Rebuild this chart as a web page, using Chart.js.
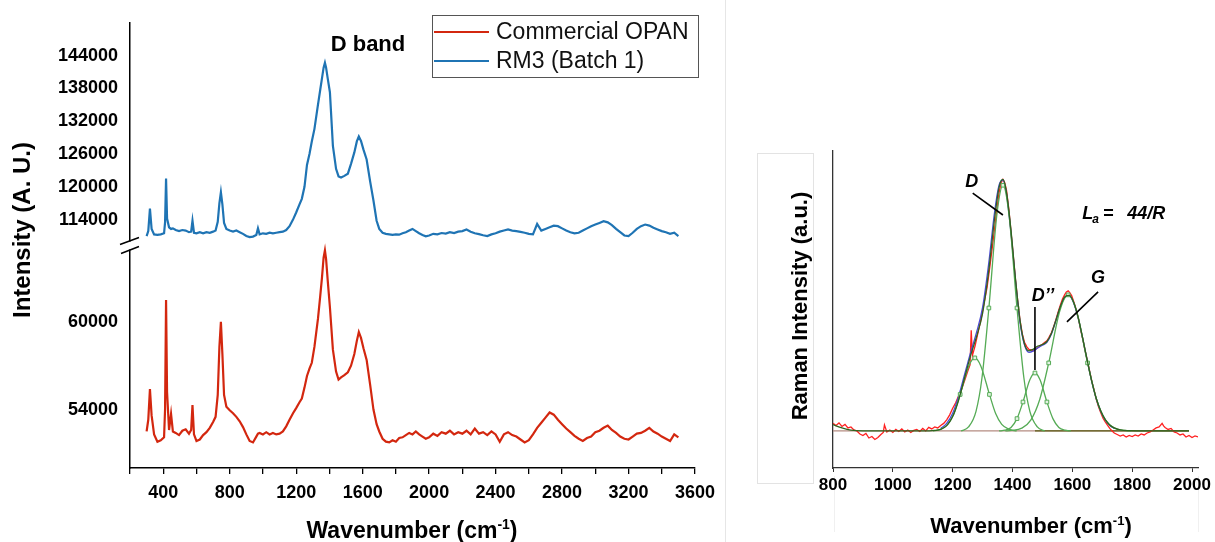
<!DOCTYPE html>
<html>
<head>
<meta charset="utf-8">
<title>Raman spectra</title>
<script src="https://cdn.jsdelivr.net/npm/chart.js@4.4.1/dist/chart.umd.min.js"></script>
<style>
  html, body { margin: 0; padding: 0; background: #fff; }
  #wrap { position: relative; width: 1215px; height: 542px; overflow: hidden; }
  #leftBox { position: absolute; left: 0; top: 0; width: 725px; height: 542px; }
  #rightBox { position: absolute; left: 726px; top: 0; width: 489px; height: 542px; }
  #sep { position: absolute; left: 725px; top: 0; width: 1px; height: 542px; background: #e6e6e6; }
</style>
</head>
<body>
<div id="wrap">
  <div id="leftBox"><canvas id="leftCanvas"></canvas></div>
  <div id="sep"></div>
  <div id="rightBox"><canvas id="rightCanvas"></canvas></div>
</div>
<script>
// ---- left panel: full spectra, broken intensity axis ----
var SERIES_NAMES = ['Commercial OPAN', 'RM3 (Batch 1)'];

var LEFT_WN = [
  300, 310, 320, 330, 345, 365, 385, 405, 411, 417,
  423, 435, 447, 458, 475, 495, 515, 535, 555, 568,
  576, 585, 600, 620, 640, 660, 680, 700, 715, 728,
  738, 747, 756, 766, 780, 800, 820, 840, 860, 880,
  900, 920, 940, 960, 970, 980, 1000, 1020, 1040, 1060,
  1080, 1100, 1120, 1140, 1160, 1181, 1200, 1220, 1234, 1250,
  1265, 1280, 1294, 1310, 1331, 1345, 1355, 1365, 1373, 1380,
  1390, 1403, 1421, 1440, 1455, 1470, 1490, 1511, 1530, 1550,
  1565, 1577, 1590, 1605, 1624, 1645, 1665, 1684, 1700, 1720,
  1740, 1760, 1780, 1800, 1820, 1840, 1860, 1880, 1900, 1920,
  1940, 1960, 1980, 2000, 2025, 2050, 2075, 2100, 2125, 2150,
  2175, 2200, 2225, 2250, 2275, 2300, 2325, 2350, 2375, 2400,
  2425, 2450, 2475, 2500, 2525, 2550, 2575, 2600, 2625, 2650,
  2675, 2700, 2725, 2750, 2775, 2800, 2825, 2850, 2875, 2900,
  2925, 2950, 2975, 3000, 3025, 3050, 3075, 3100, 3125, 3150,
  3175, 3200, 3225, 3250, 3275, 3300, 3325, 3350, 3375, 3400,
  3425, 3450, 3475, 3500
];

var OPAN = [
  52500, 53300, 55400, 53600, 52300, 51800, 51900, 52100, 54000, 61500,
  55200, 52600, 53700, 52500, 52400, 52250, 52550, 52650, 52350, 52600,
  54300, 52300, 51850, 51950, 52250, 52450, 52750, 53150, 53500, 55000,
  58300, 60000, 57800, 55000, 54200, 53950, 53750, 53500, 53200, 52800,
  52300, 51850, 51750, 52150, 52350, 52400, 52300, 52450, 52300, 52400,
  52300, 52350, 52500, 52850, 53300, 53750, 54100, 54500, 54750, 55500,
  56300, 56800, 57200, 58300, 60200, 61800, 63000, 64400, 64900, 64300,
  62800, 61000, 58100, 56600, 56050, 56200, 56350, 56550, 57000, 57800,
  58700, 59300, 58900, 58200, 57400, 55700, 54000, 53000, 52500, 52000,
  51800, 51750, 51900, 51800, 52050, 52100, 52250, 52400, 52300, 52500,
  52300, 52150, 52000, 52100, 52350, 52200, 52450, 52350, 52550, 52300,
  52450, 52350, 52550, 52300, 52700, 52350, 52450, 52250, 52500, 52300,
  51800, 52300, 52450, 52250, 52150, 51950, 51750, 51900, 52300, 52750,
  53100, 53450, 53800, 53650, 53300, 53000, 52700, 52450, 52200, 52000,
  51850, 52050, 52150, 52450, 52550, 52750, 52900, 52600, 52400, 52150,
  52000, 51950, 52150, 52350, 52400, 52550, 52750, 52500, 52350, 52150,
  52000, 51850, 52300, 52100
];

var RM3 = [
  111000, 111900, 116000, 112300, 111300, 111200, 111300, 111500, 113500, 121500,
  114200, 112600, 112300, 112400, 112100, 111900, 112100, 112000, 111700, 111800,
  113800, 111600, 111500, 111700, 111500, 111700, 111600, 111800, 112000, 113600,
  117000, 119000, 116800, 113400, 112300, 112000, 111800, 112000, 111700, 111400,
  111000, 110800, 110900, 111200, 112400, 111300, 111500, 111400, 111600, 111500,
  111600, 111700, 111800, 112100, 112800, 114000, 115300, 116800, 117800, 120000,
  124000, 126000, 128300, 130600, 135000, 137800, 139800, 141800, 142700, 141800,
  139800, 137300, 127500, 123300, 121900, 121700, 122000, 122400, 124200, 126300,
  128300, 129200, 128400, 126800, 125000, 121000, 117500, 113800, 112300, 111600,
  111400, 111300, 111200, 111300, 111250, 111500, 111700, 112000, 112300, 111900,
  111500, 111200, 110950, 111100, 111400, 111300, 111550, 111450, 111700, 111550,
  111800, 111900, 112200, 111800, 111500, 111350, 111150, 111000, 111300, 111500,
  111800, 112000, 112200, 112000, 111900, 111750, 111600, 111400, 111300, 113200,
  112000, 112300, 112600, 112900, 112800, 112400, 112000, 111700, 111500, 111600,
  112000, 112400, 112800, 113100, 113400, 113700, 113500, 113000, 112300, 111700,
  111100, 111000, 111600, 112300, 112800, 113100, 112900, 112500, 112200, 111900,
  111700, 111400, 111600, 111000
];

var LEFT_X_TICKS = [200, 400, 600, 800, 1000, 1200, 1400, 1600, 1800, 2000,
  2200, 2400, 2600, 2800, 3000, 3200, 3400, 3600];
var Y_TOP_TICKS = [114000, 120000, 126000, 132000, 138000, 144000];
var Y_BOTTOM_TICKS = [54000, 60000];

// ---- right panel: D/G region with fitted bands ----
var RAMAN_WN = [
  800, 810, 820, 830, 840, 850, 860, 870, 880, 890,
  900, 910, 920, 930, 940, 950, 960, 968, 972, 980,
  990, 1000, 1010, 1020, 1030, 1040, 1050, 1060, 1070, 1080,
  1090, 1100, 1110, 1120, 1130, 1140, 1150, 1160, 1170, 1180,
  1190, 1200, 1210, 1220, 1230, 1240, 1250, 1258, 1262, 1266,
  1275, 1285, 1295, 1305, 1315, 1325, 1335, 1345, 1355, 1362,
  1368, 1374, 1380, 1388, 1395, 1403, 1410, 1418, 1425, 1433,
  1440, 1448, 1455, 1462, 1470, 1478, 1485, 1492, 1500, 1508,
  1515, 1522, 1530, 1538, 1545, 1552, 1560, 1567, 1574, 1580,
  1586, 1592, 1598, 1605, 1612, 1620, 1628, 1635, 1642, 1650,
  1658, 1665, 1672, 1680, 1688, 1695, 1703, 1710, 1718, 1725,
  1733, 1740, 1750, 1760, 1770, 1780, 1790, 1800, 1810, 1820,
  1830, 1840, 1850, 1860, 1870, 1880, 1890, 1900, 1905, 1910,
  1920, 1930, 1940, 1950, 1960, 1970, 1980, 1990, 2000, 2010,
  2020
];

var RAMAN_INT = [
  0.030, 0.022, 0.032, 0.018, 0.026, 0.012, 0.016, 0.004, 0.000, -0.012,
  -0.018, -0.010, -0.028, -0.022, -0.034, -0.026, -0.014, -0.006, 0.024, -0.004,
  0.004, -0.006, 0.006, -0.002, 0.008, -0.004, 0.004, -0.006, 0.002, 0.006,
  -0.002, 0.010, 0.000, 0.014, 0.008, 0.016, 0.012, 0.022, 0.030, 0.044,
  0.064, 0.090, 0.112, 0.140, 0.166, 0.200, 0.236, 0.262, 0.400, 0.300,
  0.338, 0.392, 0.446, 0.508, 0.570, 0.658, 0.752, 0.852, 0.945, 0.985,
  0.998, 0.985, 0.955, 0.878, 0.790, 0.690, 0.600, 0.510, 0.440, 0.384,
  0.352, 0.334, 0.324, 0.322, 0.318, 0.326, 0.330, 0.338, 0.344, 0.352,
  0.358, 0.372, 0.390, 0.416, 0.442, 0.470, 0.500, 0.524, 0.540, 0.552,
  0.556, 0.548, 0.536, 0.512, 0.484, 0.448, 0.400, 0.364, 0.322, 0.280,
  0.236, 0.198, 0.166, 0.126, 0.094, 0.072, 0.050, 0.036, 0.022, 0.010,
  0.000, -0.008, -0.014, -0.020, -0.016, -0.024, -0.018, -0.022, -0.016, -0.020,
  -0.012, -0.016, -0.008, -0.004, 0.004, 0.012, 0.016, 0.030, 0.020, 0.014,
  0.006, 0.010, -0.004, -0.008, -0.016, -0.012, -0.024, -0.018, -0.026, -0.020,
  -0.024
];

// cumulative fit (dark green) and peak-sum (blue)
var FIT_WN = [
  800, 830, 860, 900, 1000, 1100, 1140, 1160, 1180, 1200,
  1220, 1240, 1260, 1280, 1300, 1320, 1340, 1355, 1368, 1380,
  1395, 1410, 1425, 1440, 1455, 1470, 1485, 1500, 1515, 1530,
  1545, 1560, 1575, 1590, 1605, 1620, 1635, 1650, 1665, 1680,
  1695, 1710, 1725, 1740, 1760, 1790, 1850, 1990
];
var FIT_INT = [
  0.025, 0.012, 0.003, 0, 0, 0, 0.002, 0.006, 0.021, 0.057,
  0.123, 0.212, 0.300, 0.375, 0.467, 0.630, 0.842, 0.967, 0.998, 0.947,
  0.795, 0.603, 0.440, 0.345, 0.318, 0.325, 0.337, 0.343, 0.355, 0.387,
  0.439, 0.494, 0.533, 0.538, 0.509, 0.448, 0.366, 0.279, 0.197, 0.129,
  0.079, 0.045, 0.024, 0.012, 0.004, 0.001, 0, 0
];
var SUM_WN = [
  1160, 1180, 1200, 1220, 1240, 1260, 1280, 1300, 1320, 1340,
  1355, 1368, 1380, 1395, 1410, 1425, 1440, 1455, 1470, 1485,
  1500, 1515, 1530, 1545, 1560, 1575, 1590, 1605, 1620, 1635,
  1650, 1665, 1680, 1695, 1710, 1725, 1740
];
var SUM_INT = [
  0.010, 0.030, 0.070, 0.138, 0.225, 0.312, 0.392, 0.490, 0.660, 0.868,
  0.975, 0.996, 0.940, 0.785, 0.595, 0.432, 0.342, 0.312, 0.318, 0.330,
  0.340, 0.352, 0.385, 0.438, 0.492, 0.530, 0.536, 0.506, 0.446, 0.364,
  0.278, 0.196, 0.128, 0.078, 0.044, 0.022, 0.010
];

// individual bands
var BAND1_WN = [1134, 1159, 1184, 1204, 1225, 1254, 1274, 1294, 1323, 1344, 1364, 1389, 1414];
var BAND1_INT = [0, 0.006, 0.026, 0.068, 0.145, 0.258, 0.290, 0.258, 0.145, 0.068, 0.026, 0.006, 0];
var BAND_D_WN = [1228, 1253, 1278, 1298, 1321, 1348, 1368, 1388, 1415, 1438, 1458, 1483, 1508];
var BAND_D_INT = [0, 0.016, 0.078, 0.211, 0.488, 0.861, 0.975, 0.861, 0.488, 0.211, 0.078, 0.016, 0];
var BAND_DPP_WN = [1355, 1375, 1395, 1415, 1435, 1458, 1475, 1492, 1515, 1535, 1555, 1575, 1595];
var BAND_DPP_INT = [0, 0.003, 0.014, 0.049, 0.115, 0.203, 0.230, 0.203, 0.115, 0.049, 0.014, 0.003, 0];
var BAND_G_WN = [1376, 1396, 1431, 1461, 1491, 1521, 1558, 1586, 1614, 1651, 1681, 1711, 1741, 1776, 1796];
var BAND_G_INT = [0, 0.002, 0.011, 0.043, 0.125, 0.270, 0.476, 0.540, 0.476, 0.270, 0.125, 0.043, 0.011, 0.002, 0];
var BAND_MARKS = [1225, 1274, 1323, 1321, 1368, 1415, 1435, 1475, 1515, 1521, 1586, 1651];

var BASE_WN = [800, 1990];
var BASE_INT = [0, 0];
var BASE2_WN = [1475, 1990];
var BASE2_INT = [0, 0];

var RIGHT_X_TICKS = [800, 1000, 1200, 1400, 1600, 1800, 2000];
var BAND_LABELS = ['D', 'D\u2019\u2019', 'G'];

// ------------------------------------------------------------------
var FONT = "'Liberation Sans', Arial, Helvetica, sans-serif";
var RED = '#d3270f';
var BLUE = '#1f74b4';

function pairs(xs, ys) {
  return xs.map(function (x, i) { return { x: x, y: ys[i] }; });
}

function fixedTicks(list) {
  return function (s) { s.ticks = list.map(function (v) { return { value: v }; }); };
}

// text with a raised "-1"
function drawUnitTitle(ctx, cx, baseline, size) {
  var main = 'Wavenumber (cm', sup = '-1', tail = ')';
  var supSize = Math.round(size * 0.6);
  ctx.font = 'bold ' + size + 'px ' + FONT;
  var w1 = ctx.measureText(main).width;
  var w3 = ctx.measureText(tail).width;
  ctx.font = 'bold ' + supSize + 'px ' + FONT;
  var w2 = ctx.measureText(sup).width;
  var x = cx - (w1 + w2 + w3) / 2;
  ctx.fillStyle = '#000';
  ctx.textAlign = 'left';
  ctx.textBaseline = 'alphabetic';
  ctx.font = 'bold ' + size + 'px ' + FONT;
  ctx.fillText(main, x, baseline);
  ctx.font = 'bold ' + supSize + 'px ' + FONT;
  ctx.fillText(sup, x + w1, baseline - size * 0.38);
  ctx.font = 'bold ' + size + 'px ' + FONT;
  ctx.fillText(tail, x + w1 + w2, baseline);
}

function rotatedText(ctx, text, cx, cy, font) {
  ctx.save();
  ctx.translate(cx, cy);
  ctx.rotate(-Math.PI / 2);
  ctx.font = font;
  ctx.fillStyle = '#000';
  ctx.textAlign = 'center';
  ctx.textBaseline = 'middle';
  ctx.fillText(text, 0, 0);
  ctx.restore();
}

var leftDecor = {
  id: 'leftDecor',
  afterDraw: function (chart) {
    var ctx = chart.ctx, area = chart.chartArea;
    var xs = chart.scales.x, yTop = chart.scales.yTop;
    ctx.save();

    // axis break
    var ax = area.left, yb = yTop.bottom;
    ctx.fillStyle = '#fff';
    ctx.fillRect(ax - 3, yb, 6, 8);
    ctx.strokeStyle = '#000';
    ctx.lineWidth = 1.5;
    ctx.beginPath();
    ctx.moveTo(ax - 10, yb + 3); ctx.lineTo(ax + 9, yb - 4);
    ctx.moveTo(ax - 9, yb + 12); ctx.lineTo(ax + 9, yb + 5);
    ctx.stroke();

    // titles
    rotatedText(ctx, 'Intensity (A. U.)', 23, 230, 'bold 24px ' + FONT);
    drawUnitTitle(ctx, 412, 538, 23);

    // band label
    ctx.font = 'bold 22px ' + FONT;
    ctx.fillStyle = '#000';
    ctx.textAlign = 'center';
    ctx.textBaseline = 'middle';
    ctx.fillText('D band', xs.getPixelForValue(1632), yTop.getPixelForValue(146000));

    // legend box
    var lx = 432, ly = 15, lw = 266, lh = 62;
    ctx.fillStyle = '#fff';
    ctx.fillRect(lx, ly, lw, lh);
    ctx.strokeStyle = '#555';
    ctx.lineWidth = 1;
    ctx.strokeRect(lx + 0.5, ly + 0.5, lw, lh);
    chart.data.datasets.forEach(function (ds, i) {
      var yy = ly + 17 + i * 29;
      ctx.strokeStyle = ds.borderColor;
      ctx.lineWidth = 2;
      ctx.beginPath();
      ctx.moveTo(lx + 2, yy); ctx.lineTo(lx + 57, yy);
      ctx.stroke();
      ctx.fillStyle = '#111';
      ctx.font = '23px ' + FONT;
      ctx.textAlign = 'left';
      ctx.textBaseline = 'middle';
      ctx.fillText(ds.label, lx + 64, yy + 1);
    });
    ctx.restore();
  }
};

var tickFont18 = { family: FONT, size: 18, weight: 'bold' };

new Chart(document.getElementById('leftCanvas'), {
  type: 'line',
  data: {
    datasets: [
      { label: SERIES_NAMES[0], data: pairs(LEFT_WN, OPAN), yAxisID: 'yBottom',
        borderColor: RED, borderWidth: 2.2, pointRadius: 0, tension: 0 },
      { label: SERIES_NAMES[1], data: pairs(LEFT_WN, RM3), yAxisID: 'yTop',
        borderColor: BLUE, borderWidth: 2.2, pointRadius: 0, tension: 0 }
    ]
  },
  options: {
    responsive: true, maintainAspectRatio: false, animation: false,
    layout: { padding: { top: 12, right: 30, left: 0, bottom: 0 } },
    plugins: { legend: { display: false }, tooltip: { enabled: false } },
    scales: {
      x: {
        type: 'linear', min: 200, max: 3600,
        afterBuildTicks: fixedTicks(LEFT_X_TICKS),
        ticks: {
          autoSkip: false, maxRotation: 0, padding: 8,
          color: '#000', font: tickFont18,
          callback: function (v) { return v % 400 === 0 ? String(v) : ''; }
        },
        grid: { drawOnChartArea: false, drawTicks: true, tickLength: 6, color: '#000', lineWidth: 1.3 },
        border: { color: '#000', width: 1.5 },
        afterFit: function (s) { s.height = 74; }
      },
      // stacked left axes: the first one listed is placed lowest
      yBottom: {
        type: 'linear', position: 'left', stack: 'left', stackWeight: 232,
        min: 50000, max: 65500,
        afterBuildTicks: fixedTicks(Y_BOTTOM_TICKS),
        ticks: { padding: 12, color: '#000', font: tickFont18, callback: function (v) { return String(v); } },
        grid: { display: false, drawTicks: false },
        border: { color: '#000', width: 1.5 },
        afterFit: function (s) { s.width = 130; }
      },
      yTop: {
        type: 'linear', position: 'left', stack: 'left', stackWeight: 224,
        min: 110000, max: 150000,
        afterBuildTicks: fixedTicks(Y_TOP_TICKS),
        ticks: { padding: 12, color: '#000', font: tickFont18, callback: function (v) { return String(v); } },
        grid: { display: false, drawTicks: false },
        border: { color: '#000', width: 1.5 },
        afterFit: function (s) { s.width = 130; }
      }
    }
  },
  plugins: [leftDecor]
});

// ------------------------------------------------------------------
var rightDecor = {
  id: 'rightDecor',
  beforeDraw: function (chart) {
    var ctx = chart.ctx;
    ctx.save();
    ctx.strokeStyle = '#e3e3e3';
    ctx.lineWidth = 1;
    ctx.strokeRect(31.5, 153.5, 56, 330);
    ctx.strokeStyle = '#f0f0f0';
    ctx.beginPath();
    ctx.moveTo(108.5, 476); ctx.lineTo(108.5, 532);
    ctx.moveTo(472.5, 476); ctx.lineTo(472.5, 532);
    ctx.stroke();
    ctx.restore();
  },
  afterDraw: function (chart) {
    var ctx = chart.ctx;
    var xs = chart.scales.x, ys = chart.scales.y;
    function px(w) { return xs.getPixelForValue(w); }
    function py(v) { return ys.getPixelForValue(v); }
    ctx.save();
    rotatedText(ctx, 'Raman Intensity (a.u.)', 75, 306, 'bold 22px ' + FONT);
    drawUnitTitle(ctx, 305, 533, 22);

    // band labels and leaders
    ctx.fillStyle = '#000';
    ctx.strokeStyle = '#000';
    ctx.lineWidth = 1.6;
    ctx.font = 'italic bold 18px ' + FONT;
    ctx.textAlign = 'center';
    ctx.textBaseline = 'middle';
    ctx.fillText(BAND_LABELS[0], px(1264), py(0.988));
    ctx.fillText(BAND_LABELS[1], px(1502), py(0.536));
    ctx.fillText(BAND_LABELS[2], px(1686), py(0.607));
    ctx.beginPath();
    ctx.moveTo(px(1267), py(0.944)); ctx.lineTo(px(1368), py(0.857));
    ctx.moveTo(px(1475), py(0.492)); ctx.lineTo(px(1475), py(0.242));
    ctx.moveTo(px(1686), py(0.552)); ctx.lineTo(px(1582), py(0.433));
    ctx.stroke();

    // L_a = 44/R
    var x0 = px(1633), yb = py(0.841);
    ctx.textAlign = 'left';
    ctx.textBaseline = 'alphabetic';
    ctx.font = 'italic bold 18px ' + FONT;
    ctx.fillText('L', x0, yb);
    ctx.font = 'italic bold 12px ' + FONT;
    ctx.fillText('a', x0 + 10, yb + 4);
    ctx.font = 'bold 18px ' + FONT;
    ctx.fillText('=', x0 + 21, yb);
    ctx.font = 'italic bold 18px ' + FONT;
    ctx.fillText('44/R', x0 + 45, yb);
    ctx.restore();
  }
};

var GREEN = '#55ab55';
function bandSet(xs, ys) {
  return {
    data: pairs(xs, ys), borderColor: GREEN, borderWidth: 1.3,
    cubicInterpolationMode: 'monotone', order: 2,
    pointStyle: 'rect', pointBorderColor: GREEN, pointBackgroundColor: '#e2f2e2', pointBorderWidth: 1,
    pointRadius: function (c) { return c.raw && BAND_MARKS.indexOf(c.raw.x) !== -1 ? 2.6 : 0; }
  };
}

new Chart(document.getElementById('rightCanvas'), {
  type: 'line',
  data: {
    datasets: [
      { data: pairs(FIT_WN, FIT_INT), borderColor: '#2f6420', borderWidth: 1.3, pointRadius: 0,
        cubicInterpolationMode: 'monotone', order: 1 },
      bandSet(BAND1_WN, BAND1_INT),
      bandSet(BAND_D_WN, BAND_D_INT),
      bandSet(BAND_DPP_WN, BAND_DPP_INT),
      bandSet(BAND_G_WN, BAND_G_INT),
      { data: pairs(SUM_WN, SUM_INT), borderColor: '#4b4bd6', borderWidth: 1.3, pointRadius: 0,
        cubicInterpolationMode: 'monotone', order: 3 },
      { data: pairs(RAMAN_WN, RAMAN_INT), borderColor: '#ff2020', borderWidth: 1.3, pointRadius: 0,
        tension: 0, order: 4 },
      { data: pairs(BASE2_WN, BASE2_INT), borderColor: '#5a5a14', borderWidth: 1.3, pointRadius: 0, order: 5 },
      { data: pairs(BASE_WN, BASE_INT), borderColor: '#b58c82', borderWidth: 1.3, pointRadius: 0, order: 6 }
    ]
  },
  options: {
    responsive: true, maintainAspectRatio: false, animation: false,
    layout: { padding: { top: 151, right: 17, left: 0, bottom: 0 } },
    plugins: { legend: { display: false }, tooltip: { enabled: false } },
    scales: {
      x: {
        type: 'linear', min: 800, max: 2020,
        afterBuildTicks: fixedTicks(RIGHT_X_TICKS),
        ticks: {
          autoSkip: false, maxRotation: 0, padding: 3,
          color: '#000', font: { family: FONT, size: 17, weight: 'bold' },
          callback: function (v) { return String(v); }
        },
        grid: { drawOnChartArea: false, drawTicks: true, tickLength: 4, color: '#333', lineWidth: 1 },
        border: { color: '#333', width: 1.3 },
        afterFit: function (s) { s.height = 74; }
      },
      y: {
        type: 'linear', min: -0.147, max: 1.111,
        ticks: { display: false },
        grid: { display: false, drawTicks: false },
        border: { color: '#333', width: 1.3 },
        afterFit: function (s) { s.width = 107; }
      }
    }
  },
  plugins: [rightDecor]
});
</script>
</body>
</html>
